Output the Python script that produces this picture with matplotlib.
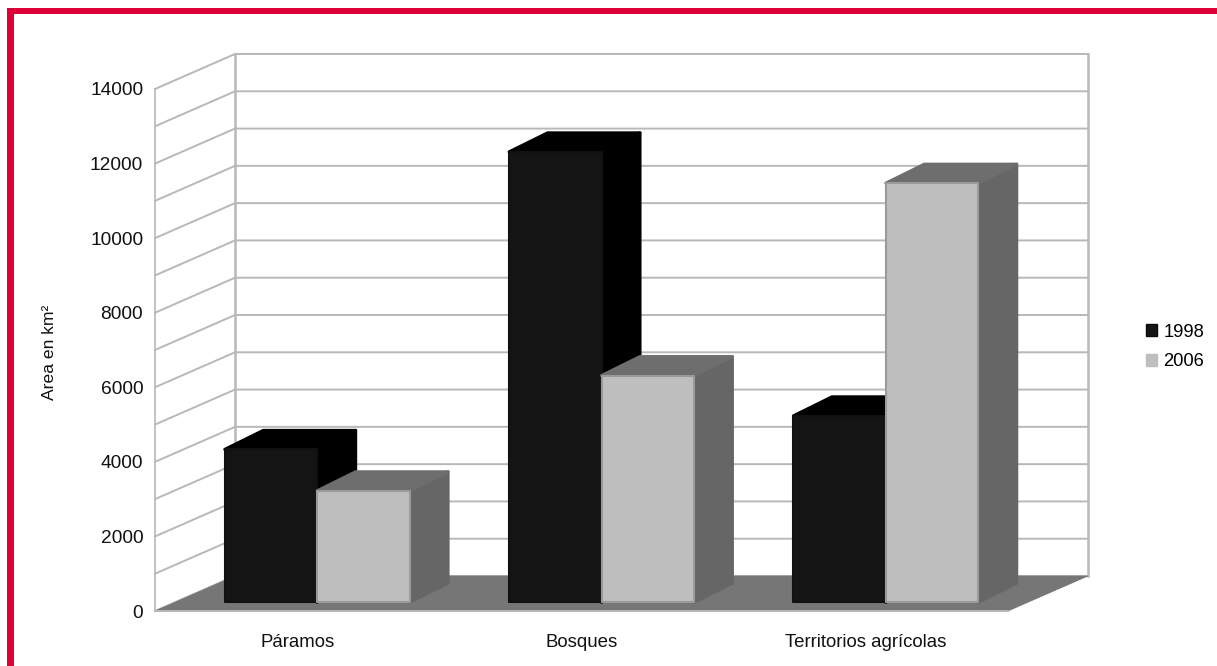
"""
plot.py
-------
Pseudo-3D grouped bars of area per land cover class, 1998 vs 2006.
"""

import numpy as np
import matplotlib
matplotlib.use("Agg")
import matplotlib.pyplot as plt
from matplotlib.patches import Patch, Polygon, Rectangle

plt.rcParams["font.family"] = ["Liberation Sans", "DejaVu Sans"]

categories = ["Páramos", "Bosques", "Territorios agrícolas"]
years = ["1998", "2006"]
values_1998 = [4100, 12080, 5000]
values_2006 = [2990, 6080, 11240]
y_ticks = [0, 2000, 4000, 6000, 8000, 10000, 12000, 14000]
grid_levels = [0, 1000, 2000, 3000, 4000, 5000, 6000, 7000, 8000, 9000,
               10000, 11000, 12000, 13000, 14000]

W, H = 1217, 666
GRID = "#b8b8b8"
RED = "#dc0036"

# oblique depth of the whole chart box, in data units
DEPTH_X = 80 / (853 / 3)
DEPTH_Y = 35 / 522 * 14000
BAR_W = 0.325
D_FRONT = 0.25
# depth of a single bar, in data units
SIDE_X = 38.5 / (853 / 3)
SIDE_Y = 19 / 522 * 14000


def depth(x, y, d):
    return x + d * DEPTH_X, y + d * DEPTH_Y


def back(pt):
    return pt[0] + SIDE_X, pt[1] + SIDE_Y


def face(ax, pts, color, edge=None, lw=2.2, z=3):
    ax.add_patch(Polygon(pts, closed=True, facecolor=color,
                         edgecolor=edge or color, linewidth=lw,
                         joinstyle="round", clip_on=False, zorder=z))


def draw_bar(ax, x0, x1, val, front, top, side, edge, z):
    fl = depth(x0, 0, D_FRONT)
    fr = depth(x1, 0, D_FRONT)
    tl = depth(x0, val, D_FRONT)
    tr = depth(x1, val, D_FRONT)
    face(ax, [fr, back(fr), back(tr), tr], side, z=z)
    face(ax, [tl, back(tl), back(tr), tr], top, z=z)
    face(ax, [fl, fr, tr, tl], front, edge=edge, lw=1.5, z=z + 0.1)


fig = plt.figure(figsize=(W / 100, H / 100), dpi=100, facecolor="white")
ax = fig.add_axes([155 / W, (H - 611) / H, 853 / W, 522 / H])
ax.set_xlim(-0.5, 2.5)
ax.set_ylim(0, 14000)
for s in ax.spines.values():
    s.set_visible(False)
ax.patch.set_alpha(0)

# ── Red frame ─────────────────────────────────────────────────────────────
fig.add_artist(Rectangle((7 / W, 0), 6.5 / W, (H - 8) / H, color=RED, lw=0,
                         transform=fig.transFigure))
fig.add_artist(Rectangle((7 / W, (H - 13.5) / H), (W - 7) / W, 5.5 / H,
                         color=RED, lw=0, transform=fig.transFigure))

# ── Walls and floor ───────────────────────────────────────────────────────
x_left, x_right = ax.get_xlim()
bx_left = depth(x_left, 0, 1)[0]
bx_right = depth(x_right, 0, 1)[0]
for lev in grid_levels:
    by = depth(0, lev, 1)[1]
    ax.plot([x_left, bx_left, bx_right], [lev, by, by], color=GRID, lw=1.4,
            clip_on=False, zorder=1, solid_joinstyle="miter")
ax.plot([x_left, x_left], [0, 14000], color=GRID, lw=1.2, clip_on=False, zorder=1)
ax.plot([bx_left, bx_left], [DEPTH_Y, 14000 + DEPTH_Y], color=GRID, lw=1.8,
        clip_on=False, zorder=1)
ax.plot([bx_right, bx_right], [DEPTH_Y, 14000 + DEPTH_Y], color=GRID, lw=1.8,
        clip_on=False, zorder=1)
face(ax, [(x_left, 0), (x_right, 0), depth(x_right, 0, 1), depth(x_left, 0, 1)],
     "#767676", lw=0.5, z=2)
ax.plot([x_left, x_right], [0, 0], color=GRID, lw=1.4, clip_on=False, zorder=2.5)

# ── Bars ──────────────────────────────────────────────────────────────────
for i in range(len(categories)):
    draw_bar(ax, i - BAR_W, i, values_1998[i], "#141414", "#000000", "#000000",
             "#111111", z=3 + i)
    draw_bar(ax, i, i + BAR_W, values_2006[i], "#bebebe", "#6e6e6e", "#666666",
             "#9a9a9a", z=3.5 + i)

# ── Axes text ─────────────────────────────────────────────────────────────
ax.set_yticks(y_ticks)
ax.set_yticklabels([str(v) for v in y_ticks])
ax.set_xticks(range(len(categories)))
ax.set_xticklabels(categories)
ax.tick_params(axis="y", length=0, pad=8.5, labelsize=13.8, labelcolor="#111111")
ax.tick_params(axis="x", length=0, pad=16.5, labelsize=13.4, labelcolor="#111111")
fig.text(49 / W, (H - 352) / H, "Area en km²", rotation=90, ha="center",
         va="center", fontsize=12.6, color="#111111")

handles = [Patch(facecolor="#141414", edgecolor="#0a0a0a", label=years[0]),
           Patch(facecolor="#bebebe", edgecolor="#bebebe", label=years[1])]
fig.legend(handles=handles, loc="center left",
           bbox_to_anchor=(1146 / W, (H - 347) / H), frameon=False,
           fontsize=13.2, handlelength=0.6, handleheight=0.6,
           handletextpad=0.36, labelspacing=0.68, borderpad=0, borderaxespad=0)

fig.savefig("out.png", dpi=100)
